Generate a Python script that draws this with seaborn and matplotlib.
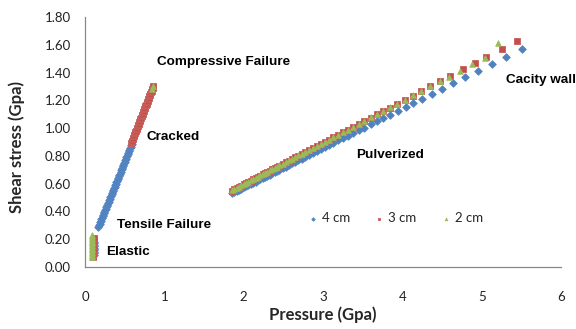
import matplotlib
matplotlib.use("Agg")
import matplotlib.pyplot as plt
import seaborn as sns
import pandas as pd

# ---------------- data ----------------
series_names = ["4 cm", "3 cm", "2 cm"]

# Elastic region
blue_el_x = [0.112, 0.112, 0.113, 0.113, 0.114, 0.114, 0.115, 0.115, 0.116, 0.116]
blue_el_y = [0.09, 0.10, 0.11, 0.12, 0.13, 0.14, 0.15, 0.16, 0.17, 0.18]
red_el_x = [0.106, 0.106, 0.106, 0.107, 0.107, 0.107, 0.107, 0.108, 0.108, 0.108, 0.108, 0.109, 0.109, 0.109, 0.109]
red_el_y = [0.07, 0.08, 0.09, 0.10, 0.11, 0.12, 0.13, 0.14, 0.15, 0.16, 0.17, 0.18, 0.19, 0.20, 0.21]
green_el_x = [0.090, 0.090, 0.090, 0.091, 0.091, 0.091, 0.091, 0.092, 0.092, 0.092, 0.092, 0.093, 0.093, 0.093, 0.093, 0.094, 0.094]
green_el_y = [0.07, 0.08, 0.09, 0.10, 0.11, 0.12, 0.13, 0.14, 0.15, 0.16, 0.17, 0.18, 0.19, 0.20, 0.21, 0.22, 0.23]

# Tensile -> cracked -> compressive region
blue_st_x = [0.170, 0.1775, 0.185, 0.1925, 0.200, 0.2075, 0.215, 0.2225, 0.230, 0.2375, 0.245, 0.2525, 0.260,
             0.2675, 0.275, 0.2825, 0.290, 0.2975, 0.305, 0.3125, 0.320, 0.3275, 0.335, 0.3425, 0.350, 0.3575,
             0.365, 0.3725, 0.380, 0.3875, 0.395, 0.4025, 0.410, 0.4175, 0.425, 0.4325, 0.440, 0.4475, 0.455,
             0.4625, 0.470, 0.4775, 0.485, 0.4925, 0.500, 0.5075, 0.515, 0.5225, 0.530, 0.5375, 0.545, 0.5525,
             0.560, 0.5675, 0.575, 0.5825, 0.590]
blue_st_y = [0.290, 0.301, 0.311, 0.322, 0.333, 0.343, 0.354, 0.365, 0.375, 0.386, 0.397, 0.407, 0.418, 0.429,
             0.439, 0.450, 0.460, 0.471, 0.482, 0.492, 0.503, 0.514, 0.524, 0.535, 0.546, 0.556, 0.567, 0.578,
             0.588, 0.599, 0.610, 0.620, 0.631, 0.642, 0.652, 0.663, 0.673, 0.684, 0.695, 0.705, 0.716, 0.727,
             0.737, 0.748, 0.759, 0.769, 0.780, 0.791, 0.801, 0.812, 0.823, 0.833, 0.844, 0.855, 0.865, 0.876,
             0.886]
red_st_x = [0.580, 0.587, 0.594, 0.601, 0.608, 0.615, 0.622, 0.629, 0.636, 0.643, 0.650, 0.657, 0.664, 0.671,
            0.678, 0.685, 0.692, 0.699, 0.706, 0.713, 0.720, 0.727, 0.734, 0.741, 0.748, 0.755, 0.762, 0.769,
            0.776, 0.783, 0.790, 0.797, 0.804, 0.811, 0.818, 0.825, 0.832, 0.839, 0.846, 0.853, 0.860]
red_st_y = [0.890, 0.900, 0.910, 0.921, 0.931, 0.941, 0.951, 0.962, 0.972, 0.982, 0.992, 1.003, 1.013, 1.023,
            1.033, 1.044, 1.054, 1.064, 1.074, 1.085, 1.095, 1.105, 1.115, 1.126, 1.136, 1.146, 1.156, 1.167,
            1.176, 1.187, 1.197, 1.208, 1.218, 1.228, 1.238, 1.249, 1.259, 1.269, 1.279, 1.290, 1.300]
green_st_x = [0.85, 0.86]
green_st_y = [1.285, 1.300]

# Pulverized region
blue_pu_x = [1.85, 1.88, 1.91, 1.94, 1.97, 2.00, 2.03, 2.06, 2.09, 2.12, 2.15, 2.18, 2.21, 2.24, 2.27, 2.30, 2.33,
             2.36, 2.39, 2.42, 2.45, 2.49, 2.53, 2.57, 2.61, 2.65, 2.69, 2.73, 2.77, 2.82, 2.87, 2.92, 2.97, 3.02,
             3.07, 3.13, 3.19, 3.25, 3.31, 3.38, 3.45, 3.52, 3.60, 3.68, 3.76, 3.85, 3.94, 4.04, 4.14, 4.25, 4.38,
             4.50, 4.64, 4.79, 4.96, 5.13, 5.31, 5.51]
blue_pu_y = [0.530, 0.539, 0.547, 0.556, 0.564, 0.573, 0.581, 0.590, 0.598, 0.607, 0.615, 0.624, 0.632, 0.641,
             0.649, 0.658, 0.666, 0.675, 0.683, 0.692, 0.700, 0.712, 0.723, 0.734, 0.746, 0.757, 0.769, 0.780,
             0.791, 0.805, 0.820, 0.834, 0.848, 0.862, 0.876, 0.894, 0.911, 0.928, 0.945, 0.965, 0.984, 1.004,
             1.027, 1.050, 1.072, 1.098, 1.124, 1.152, 1.180, 1.212, 1.249, 1.283, 1.322, 1.365, 1.413, 1.462,
             1.513, 1.570]
red_pu_x = [1.85, 1.88, 1.91, 1.94, 1.97, 2.00, 2.03, 2.06, 2.09, 2.12, 2.15, 2.18, 2.21, 2.24, 2.27, 2.30, 2.33,
            2.36, 2.39, 2.42, 2.45, 2.49, 2.53, 2.57, 2.61, 2.65, 2.69, 2.73, 2.77, 2.82, 2.87, 2.92, 2.97, 3.02,
            3.07, 3.13, 3.19, 3.25, 3.31, 3.38, 3.45, 3.52, 3.60, 3.68, 3.75, 3.84, 3.93, 4.03, 4.13, 4.24, 4.35,
            4.48, 4.60, 4.76, 4.91, 5.06, 5.25, 5.44]
red_pu_y = [0.550, 0.559, 0.568, 0.577, 0.586, 0.595, 0.604, 0.613, 0.622, 0.631, 0.640, 0.649, 0.658, 0.667,
            0.676, 0.685, 0.694, 0.703, 0.712, 0.721, 0.730, 0.742, 0.754, 0.766, 0.778, 0.790, 0.802, 0.814,
            0.826, 0.841, 0.856, 0.871, 0.886, 0.901, 0.916, 0.934, 0.952, 0.970, 0.988, 1.009, 1.030, 1.051,
            1.075, 1.099, 1.120, 1.147, 1.174, 1.204, 1.234, 1.267, 1.300, 1.339, 1.375, 1.423, 1.468, 1.513,
            1.570, 1.627]
green_pu_x = [1.85, 1.88, 1.91, 1.94, 1.97, 2.00, 2.03, 2.06, 2.09, 2.12, 2.15, 2.18, 2.21, 2.24, 2.27, 2.30, 2.33,
              2.36, 2.39, 2.42, 2.45, 2.49, 2.53, 2.57, 2.61, 2.65, 2.69, 2.73, 2.77, 2.82, 2.87, 2.92, 2.97, 3.02,
              3.07, 3.13, 3.19, 3.25, 3.31, 3.38, 3.45, 3.52, 3.60, 3.68, 3.75, 3.84, 3.93, 4.03, 4.13, 4.24, 4.35,
              4.47, 4.59, 4.73, 4.88, 5.04, 5.20]
green_pu_y = [0.552, 0.561, 0.570, 0.579, 0.588, 0.597, 0.606, 0.615, 0.624, 0.633, 0.642, 0.651, 0.660, 0.669,
              0.678, 0.687, 0.696, 0.705, 0.714, 0.723, 0.732, 0.744, 0.756, 0.768, 0.780, 0.792, 0.804, 0.816,
              0.828, 0.843, 0.858, 0.873, 0.888, 0.903, 0.918, 0.936, 0.954, 0.972, 0.990, 1.011, 1.032, 1.053,
              1.077, 1.101, 1.122, 1.149, 1.176, 1.206, 1.236, 1.269, 1.300, 1.336, 1.366, 1.411, 1.459, 1.505,
              1.615]

annotations = ["Compressive Failure", "Cracked", "Tensile Failure", "Elastic", "Pulverized", "Cacity wall"]
annot_x = [0.91, 0.77, 0.40, 0.265, 3.42, 5.31]
annot_y = [1.475, 0.935, 0.30, 0.11, 0.81, 1.345]

x_ticks = [0, 1, 2, 3, 4, 5, 6]
y_ticks = [0.0, 0.2, 0.4, 0.6, 0.8, 1.0, 1.2, 1.4, 1.6, 1.8]

colors = ["#4F81BD", "#C0504D", "#9BBB59"]

# ---------------- build tables ----------------
frames = []
for name, xs, ys in [
    ("4 cm", blue_el_x + blue_st_x + blue_pu_x, blue_el_y + blue_st_y + blue_pu_y),
    ("3 cm", red_el_x + red_st_x + red_pu_x, red_el_y + red_st_y + red_pu_y),
    ("2 cm", green_el_x + green_st_x + green_pu_x, green_el_y + green_st_y + green_pu_y),
]:
    frames.append(pd.DataFrame({"Pressure": xs, "Shear": ys, "Series": name}))

sns.set_style("white")
plt.rcParams["font.family"] = ["Lato", "DejaVu Sans"]

fig = plt.figure(figsize=(5.76, 3.29), dpi=100)
ax = fig.add_axes([85 / 576, 1 - 267 / 329, 476 / 576, 250 / 329])

marker_map = {"4 cm": "D", "3 cm": "s", "2 cm": "^"}
size_map = {"4 cm": 15, "3 cm": 22, "2 cm": 16}
edge_map = {"4 cm": "#5587C6", "3 cm": "#C95E5B", "2 cm": "#9BBB59"}
for df, col in zip(frames, colors):
    name = df["Series"].iloc[0]
    sns.scatterplot(data=df, x="Pressure", y="Shear", ax=ax, color=col, marker=marker_map[name],
                    s=size_map[name], edgecolor=edge_map[name], linewidth=0.6, label=name, zorder=3)

ax.set_xlim(0, 6)
ax.set_ylim(0, 1.8)
ax.set_xticks(x_ticks)
ax.set_yticks(y_ticks)
ax.set_yticklabels([f"{v:.2f}" for v in y_ticks])
ax.tick_params(axis="both", length=0, labelsize=9.5, colors="#222222")
ax.tick_params(axis="x", pad=17)
ax.tick_params(axis="y", pad=10)
for side in ["top", "right"]:
    ax.spines[side].set_visible(False)
for side in ["left", "bottom"]:
    ax.spines[side].set_color("#888888")
    ax.spines[side].set_linewidth(0.9)

ax.set_xlabel("Pressure (Gpa)", fontsize=12, fontweight="bold", labelpad=3)
ax.set_ylabel("Shear stress (Gpa)", fontsize=12, fontweight="bold")
ax.yaxis.set_label_coords(-0.125, 0.48)

for t, xv, yv in zip(annotations, annot_x, annot_y):
    ax.text(xv, yv, t, fontsize=9.7, fontweight="bold", family="Liberation Sans",
            ha="left", va="center", color="black")

leg = ax.legend(loc="center", bbox_to_anchor=(0.65, 0.196), ncol=3, frameon=False,
                fontsize=9.5, markerscale=0.45, handletextpad=0.2, columnspacing=1.7,
                handlelength=1.0)

fig.savefig("out.png", dpi=100)
